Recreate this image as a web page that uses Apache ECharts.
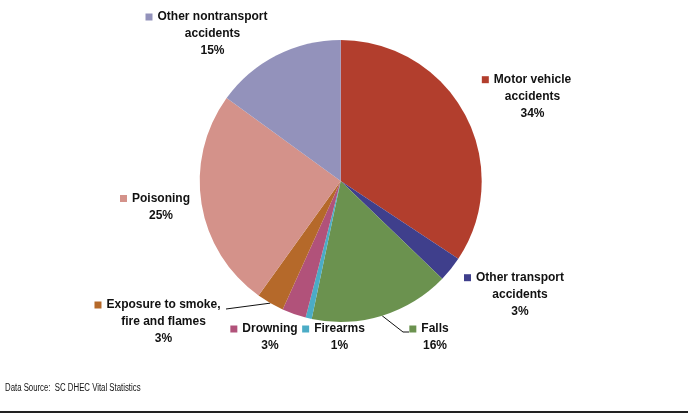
<!DOCTYPE html>
<html>
<head>
<meta charset="utf-8">
<script src="https://cdn.jsdelivr.net/npm/echarts@6/dist/echarts.min.js"></script>
<style>html,body{margin:0;padding:0;background:#fff}#c{width:688px;height:415px}</style>
</head>
<body>
<div id="c"></div>
<script>
const categories = ['Motor vehicle\naccidents', 'Other transport\naccidents', 'Falls', 'Firearms', 'Drowning', 'Exposure to smoke,\nfire and flames', 'Poisoning', 'Other nontransport\naccidents'];
const values = [34.3, 2.9, 16.1, 0.7, 2.75, 3.15, 25.1, 15.0];
const colors = ['#B23E2D', '#3F3F8C', '#6B924F', '#4BACC6', '#B1527A', '#B5692A', '#D4928A', '#9392BB'];
const labelPos = [[532.5, 96.7], [520, 294.7], [435, 337.5], [339.5, 337.5], [270, 337.5], [163.5, 322], [161, 207], [212.5, 34]];
const showLine = [false, false, true, false, false, true, false, false];
// leader line offsets from the label centre (end points of the guide line)
const lineEnds = {2: [[-32, -5.5], [-26, -5.5]], 5: [[62.5, -13], [62.5, -13]]};

const rich = {
  t: {fontFamily: 'Liberation Sans, Arial, sans-serif', fontWeight: 'bold', fontSize: 12, color: '#111', lineHeight: 17},
  g: {width: 5, height: 7},
  s: {width: 12, height: 7}
};
colors.forEach((c, i) => { rich['m' + i] = {backgroundColor: c, width: 7, height: 7}; });

const chart = echarts.init(document.getElementById('c'), null, {renderer: 'canvas'});
chart.setOption({
  animation: false,
  graphic: [
    {type: 'text', left: 5, top: 383, scaleX: 0.78, style: {text: 'Data Source:  SC DHEC Vital Statistics', font: '10px "Liberation Sans", Arial, sans-serif', fill: '#111'}},
    {type: 'rect', shape: {x: 0, y: 411, width: 688, height: 2}, style: {fill: '#222'}}
  ],
  series: [{
    type: 'pie',
    center: [340.7, 181],
    radius: 141,
    startAngle: 90,
    clockwise: true,
    percentPrecision: 0,
    itemStyle: {borderWidth: 0},
    label: {
      show: true,
      rich: rich,
      align: 'center',
      formatter: function (p) {
        const lines = p.name.split('\n');
        let s = '{m' + p.dataIndex + '|}{g|}{t|' + lines[0] + '}{s|}';
        for (let i = 1; i < lines.length; i++) s += '\n{t|' + lines[i] + '}';
        s += '\n{t|' + p.percent + '%}';
        return s;
      }
    },
    labelLayout: function (p) {
      const pos = labelPos[p.dataIndex];
      const res = {x: pos[0], y: pos[1], align: 'center', verticalAlign: 'middle'};
      const ends = lineEnds[p.dataIndex];
      if (ends && p.labelLinePoints) {
        const start = p.labelLinePoints[0];
        res.labelLinePoints = [
          [start[0], start[1]],
          [pos[0] + ends[0][0], pos[1] + ends[0][1]],
          [pos[0] + ends[1][0], pos[1] + ends[1][1]]
        ];
      }
      return res;
    },
    data: categories.map((n, i) => ({
      name: n,
      value: values[i],
      itemStyle: {color: colors[i]},
      labelLine: {show: showLine[i], lineStyle: {color: '#111', width: 1}}
    }))
  }]
});
</script>
</body>
</html>
